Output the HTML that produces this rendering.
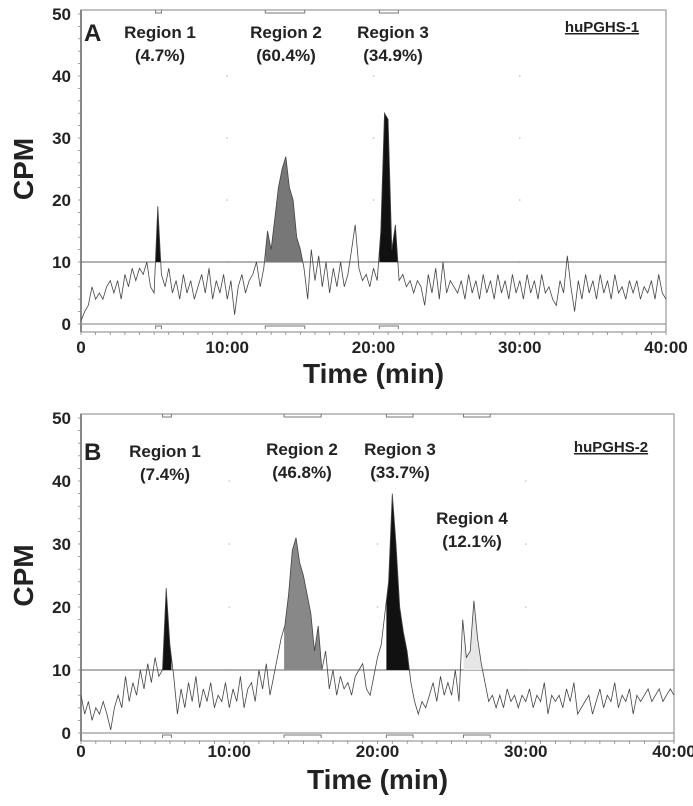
<!DOCTYPE html>
<html><head><meta charset="utf-8"><style>
body{margin:0;background:#fff;width:693px;height:801px;overflow:hidden}
svg text{font-family:"Liberation Sans",Arial,sans-serif;font-weight:bold;fill:#222}
</style></head><body>
<svg id="chart" width="693" height="801" viewBox="0 0 693 801" xmlns="http://www.w3.org/2000/svg"></svg>
<script>
const yTicks=[0,10,20,30,40,50];
const xTickLabels=["0","10:00","20:00","30:00","40:00"];
const xTickValues=[0,10,20,30,40];
const threshold=10;
const seriesA=[0.5,2,3,6,4,5,4,6,7,5,7,4,8,6,9,7,9,8,10,6,5,19,8,6,9,5,7,4,8,5,7,4,6,8,5,9,4,7,5,8,4,7,1.5,6,8,5,7,8,10,6,9,15,12,17,22,25,27,22,20,14,12,9,4,12,7,11,6,10,5,9,6,10,6,8,12,16,9,7,8,6,9,7,15,34,33,12,16,7,8,6,7,5,7,6,3,8,5,9,4,10,5,7,6,5,7,4,8,5,7,4,8,5,7,4,8,5,7,4,8,5,7,4,8,5,7,4,8,5,6,4,3,7,5,11,6,2,7,4,8,5,7,4,8,5,7,4,8,5,6,4,7,5,7,4,6,5,7,4,8,5,4];
const seriesB=[6,3,5,2,4,3,5,3,0.5,4,6,4,9,5,8,6,10,7,11,8,12,9,10,23,14,9,3,7,4,8,5,9,4,7,5,8,4,6,5,8,4,7,5,9,4,7,8,5,10,7,11,6,9,12,15,17,22,29,31,27,25,22,19,13,17,10,13,7,10,6,9,7,8,6,9,10,11,7,6,9,12,14,19,24,38,30,20,16,13,8,5,3,5,4,6,8,5,9,6,8,6,10,5,18,12,13,21,15,11,8,5,6,4,6,4,7,5,6,4,6,5,7,4,6,5,8,3,6,5,6,4,7,5,8,3,4,5,6,3,5,7,4,6,5,8,4,6,5,7,3,6,5,6,7,5,6,7,5,6,7,6];
const regionsA=[[5.1,5.5],[12.6,15.3],[20.4,21.7]];
const regionsB=[[5.5,6.1],[13.7,16.2],[20.6,22.4],[25.8,27.6]];
const fillsA=["#111","#777","#111"];
const fillsB=["#111","#888","#111","#e6e6e6"];
const labelsA=[["Region 1","(4.7%)"],["Region 2","(60.4%)"],["Region 3","(34.9%)"]];
const labelsB=[["Region 1","(7.4%)"],["Region 2","(46.8%)"],["Region 3","(33.7%)"],["Region 4","(12.1%)"]];

const svg=document.getElementById('chart');
const NS="http://www.w3.org/2000/svg";
function mk(tag,attrs,parent,txt){const e=document.createElementNS(NS,tag);for(const k in attrs)e.setAttribute(k,attrs[k]);if(txt!==undefined)e.textContent=txt;(parent||svg).appendChild(e);return e;}

function panel(p){
  const g=mk('g',{});
  
  
  const X=t=>p.x0+(p.x1-p.x0)*t/40;
  const Y=v=>p.y0+(p.y50-p.y0)*v/50;
  const fr=mk('rect',{x:p.x0,y:p.y50-4,width:p.x1-p.x0,height:p.frameB-(p.y50-4),fill:'none',stroke:'#999','stroke-width':1.2},g);
  
  mk('line',{x1:p.x0,y1:p.y50-4,x2:p.x0,y2:p.frameB,stroke:'#666','stroke-width':1.5},g);
  for(let v=0;v<=50;v+=2){mk('line',{x1:p.x0-3,y1:Y(v),x2:p.x0,y2:Y(v),stroke:'#888','stroke-width':0.8},g);}
  for(let t=0;t<=40;t+=1){mk('line',{x1:X(t),y1:p.frameB,x2:X(t),y2:p.frameB+3,stroke:'#888','stroke-width':0.8},g);}
  for(const gx of [10,20,30])for(const gv of [10,20,30,40]){mk('circle',{cx:X(gx),cy:Y(gv),r:0.8,fill:'#bbb'},g);}
  const zl=mk('line',{x1:p.x0,y1:Y(0),x2:p.x1,y2:Y(0),stroke:'#999','stroke-width':1.2},g);
  
  const th=mk('line',{x1:p.x0,y1:Y(threshold),x2:p.x1,y2:Y(threshold),stroke:'#666','stroke-width':1},g);
  
  yTicks.forEach(v=>{const t=mk('text',{x:p.x0-10,y:Y(v)+6,'text-anchor':'end','font-size':17},g,String(v));
    });
  xTickValues.forEach((v,i)=>{const t=mk('text',{x:X(v),y:p.xlabY,'text-anchor':'middle','font-size':17},g,xTickLabels[i]);
    });
  const yt=mk('text',{x:0,y:0,'text-anchor':'middle','font-size':28,transform:`translate(33,${(Y(0)+Y(50))/2}) rotate(-90)`},g,'CPM');
  
  const xt=mk('text',{x:(p.x0+p.x1)/2,y:p.titleY,'text-anchor':'middle','font-size':28},g,'Time (min)');
  
  const n=p.data.length,dt=40/(n-1);
  p.regions.forEach((r,i)=>{
    const cid='clip'+p.id+i;
    const cp=mk('clipPath',{id:cid},g);
    mk('rect',{x:X(r[0]),y:Y(50),width:X(r[1])-X(r[0]),height:Y(threshold)-Y(50)},cp);
    let pts=[];
    for(let k=0;k<n;k++){const t=k*dt;if(t>=r[0]-dt&&t<=r[1]+dt)pts.push(X(t)+','+Y(p.data[k]));}
    pts.push(X(r[1]+dt)+','+Y(threshold));pts.push(X(r[0]-dt)+','+Y(threshold));
    const pl=mk('polygon',{points:pts.join(' '),fill:p.fills[i],'clip-path':`url(#${cid})`},g);
    
    for(const yy of [p.y50-4,p.frameB-3]){
      const d=yy<Y(25)?3:-3;
      const b=mk('path',{d:`M${X(r[0])},${yy} v${d} H${X(r[1])} v${-d}`,fill:'none',stroke:'#777','stroke-width':1},g);
      
    }
  });
  let d='';for(let k=0;k<n;k++)d+=(k?'L':'M')+X(k*dt).toFixed(1)+','+Y(p.data[k]).toFixed(1);
  const tr=mk('path',{d:d,fill:'none',stroke:'#444','stroke-width':0.8},g);
  
  p.labels.forEach((l,i)=>{const pos=p.labelPos[i];
    const a=mk('text',{x:pos[0],y:pos[1],'text-anchor':'middle','font-size':17},g,l[0]);
    
    const b=mk('text',{x:pos[0],y:pos[1]+23,'text-anchor':'middle','font-size':17},g,l[1]);
    });
  const L=mk('text',{x:p.x0+3,y:p.letterY,'font-size':24},g,p.id);
  
  const e=mk('text',{x:p.enzX,y:p.enzY,'text-anchor':'middle','font-size':15,'text-decoration':'underline'},g,p.enz);
  
}
panel({id:'A',x0:81,x1:666,y0:324,y50:14,frameB:332,xlabY:353,titleY:383,data:seriesA,regions:regionsA,fills:fillsA,labels:labelsA,labelPos:[[160,38],[286,38],[393,38]],letterY:41,enz:'huPGHS-1',enzX:602,enzY:32});
panel({id:'B',x0:81,x1:674,y0:733,y50:418,frameB:741,xlabY:757,titleY:789,data:seriesB,regions:regionsB,fills:fillsB,labels:labelsB,labelPos:[[165,457],[302,455],[400,455],[472,524]],letterY:460,enz:'huPGHS-2',enzX:611,enzY:452});
</script>
</body></html>
